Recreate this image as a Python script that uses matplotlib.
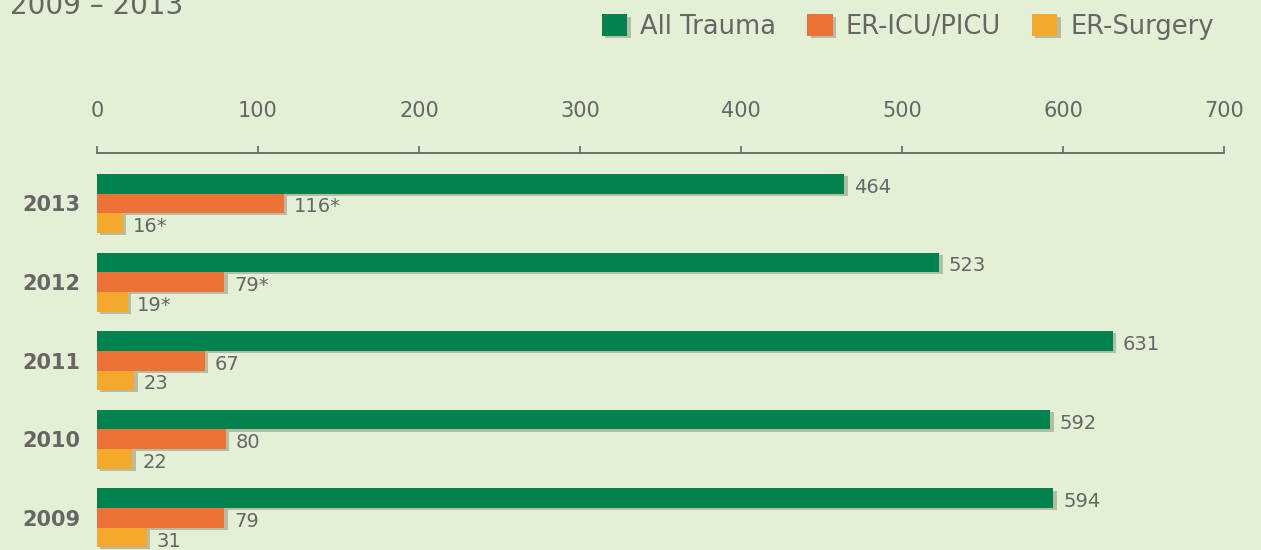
import matplotlib
matplotlib.use('Agg')
import matplotlib.pyplot as plt
import matplotlib.patheffects as pe
import numpy as np

# Data (top to bottom)
years = ['2013', '2012', '2011', '2010', '2009']
all_trauma = [464, 523, 631, 592, 594]
er_icu = [116, 79, 67, 80, 79]
er_surgery = [16, 19, 23, 22, 31]
icu_labels = ['116*', '79*', '67', '80', '79']
surg_labels = ['16*', '19*', '23', '22', '31']
trauma_labels = ['464', '523', '631', '592', '594']
xticks = [0, 100, 200, 300, 400, 500, 600, 700]

bg = '#E3F0D5'
gray = '#666666'
green = '#00834F'
orange = '#EC7236'
yellow = '#F5A92C'

plt.rcParams['font.family'] = ['DejaVu Sans']

fig = plt.figure(figsize=(12.61, 5.5), dpi=100, facecolor=bg)
ax = fig.add_axes([97 / 1261, 0, 1127 / 1261, (550 - 153) / 550])
ax.set_facecolor(bg)

y = np.arange(len(years))
h = 0.25
shadow = [pe.withSimplePatchShadow(offset=(2.5, -1.5), shadow_rgbFace='#6f6f5f', alpha=0.4), pe.Normal()]

b1 = ax.barh(y - h, all_trauma, height=h, color=green, label='All Trauma', path_effects=shadow)
b2 = ax.barh(y, er_icu, height=h, color=orange, label='ER-ICU/PICU', path_effects=shadow)
b3 = ax.barh(y + h, er_surgery, height=h, color=yellow, label='ER-Surgery', path_effects=shadow)

for bars, labels in [(b1, trauma_labels), (b2, icu_labels), (b3, surg_labels)]:
    for bar, lab in zip(bars, labels):
        ax.annotate(lab, (bar.get_width(), bar.get_y() + bar.get_height() / 2),
                    xytext=(7, -2.5), textcoords='offset points',
                    ha='left', va='center', fontsize=14, color=gray)

ax.set_xlim(0, 700)
ax.set_ylim(4.408, -0.642)

ax.xaxis.tick_top()
ax.set_xticks(xticks)
ax.tick_params(axis='x', colors=gray, labelcolor=gray, labelsize=15,
               length=5, width=1.2, direction='out', pad=18)
ax.set_yticks(y)
ax.set_yticklabels(years, fontsize=15, fontweight='bold', color=gray)
ax.tick_params(axis='y', length=0, pad=12)

for s in ['bottom', 'left', 'right']:
    ax.spines[s].set_visible(False)
ax.spines['top'].set_color(gray)
ax.spines['top'].set_linewidth(1.3)

fig.text(10 / 1261, 1 - 14 / 550, '2009 \u2013 2013', fontsize=20, color=gray,
         ha='left', va='baseline')

fig.legend(handles=[b1, b2, b3], loc='center right',
           bbox_to_anchor=(1237 / 1261, 1 - 27 / 550), ncol=3, frameon=False,
           fontsize=18.5, labelcolor=gray, handlelength=1.0, handleheight=0.9,
           handletextpad=0.5, columnspacing=1.2)

plt.savefig('out.png', dpi=100, facecolor=bg)
